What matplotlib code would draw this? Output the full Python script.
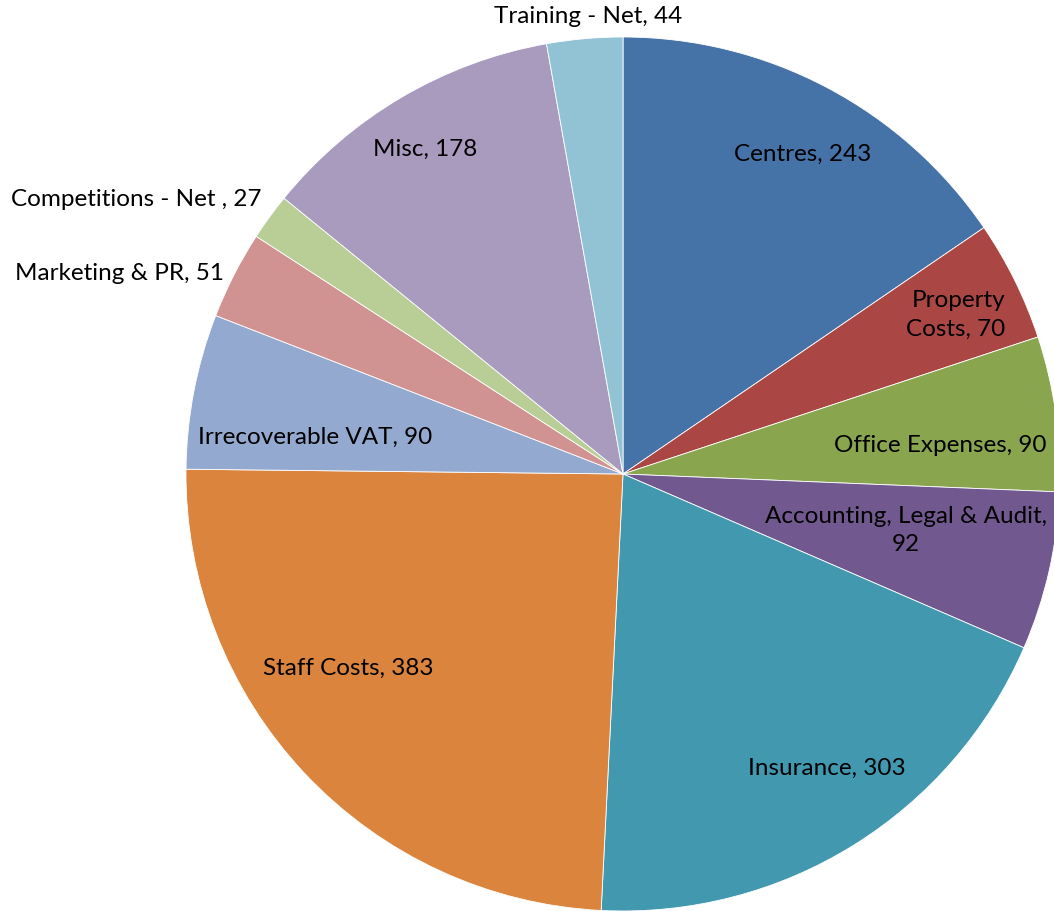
import numpy as np
import matplotlib
matplotlib.use("Agg")
import matplotlib.pyplot as plt

categories = ["Centres", "Property\nCosts", "Office Expenses", "Accounting, Legal & Audit,\n",
              "Insurance", "Staff Costs", "Irrecoverable VAT", "Marketing & PR",
              "Competitions - Net ", "Misc", "Training - Net"]
values = [243, 70, 90, 92, 303, 383, 90, 51, 27, 178, 44]
colors = ["#4572A7", "#AA4643", "#89A54E", "#71588F", "#4198AF", "#DB843D",
          "#93A9CF", "#D19392", "#B9CD96", "#A99BBD", "#92C3D5"]

# label placement: radius fraction, clockwise angle offset from wedge middle (deg), alignment
label_r = [0.84, 0.947, 0.73, 0.66, 0.82, 0.77, 0.71, 1.24, 1.28, 0.87, 1.05]
label_dang = [1.5, 3.7, 2.8, -1.6, -2.9, 7.9, -4.2, -5.4, -6.6, -0.9, 0.7]
label_ha = ["center", "right", "center", "center", "center", "center", "center",
            "center", "center", "center", "center"]

plt.rcParams['font.family'] = ['Lato', 'DejaVu Sans']

fig = plt.figure(figsize=(10.54, 9.11), dpi=100)
ax = fig.add_axes([0, 0, 1, 1])
R = 437
wedges, _ = ax.pie(values, radius=R, center=(0, 0), startangle=90, counterclock=False,
                   colors=colors, wedgeprops=dict(edgecolor="white", linewidth=0.6))
ax.set_xlim(-623, 431)
ax.set_ylim(-437, 474)
ax.set_aspect("equal")
ax.axis("off")

for w, cat, v, rf, da, ha in zip(wedges, categories, values, label_r, label_dang, label_ha):
    mid = np.deg2rad((w.theta1 + w.theta2) / 2 - da)
    x = rf * R * np.cos(mid)
    y = rf * R * np.sin(mid)
    if cat.endswith("\n"):
        text = f"{cat}{v}"
    else:
        text = f"{cat}, {v}"
    ax.text(x, y, text, ha=ha, va="center", fontsize=17.5, color="black",
            multialignment=ha, linespacing=1.45)

fig.savefig("out.png", dpi=100)
